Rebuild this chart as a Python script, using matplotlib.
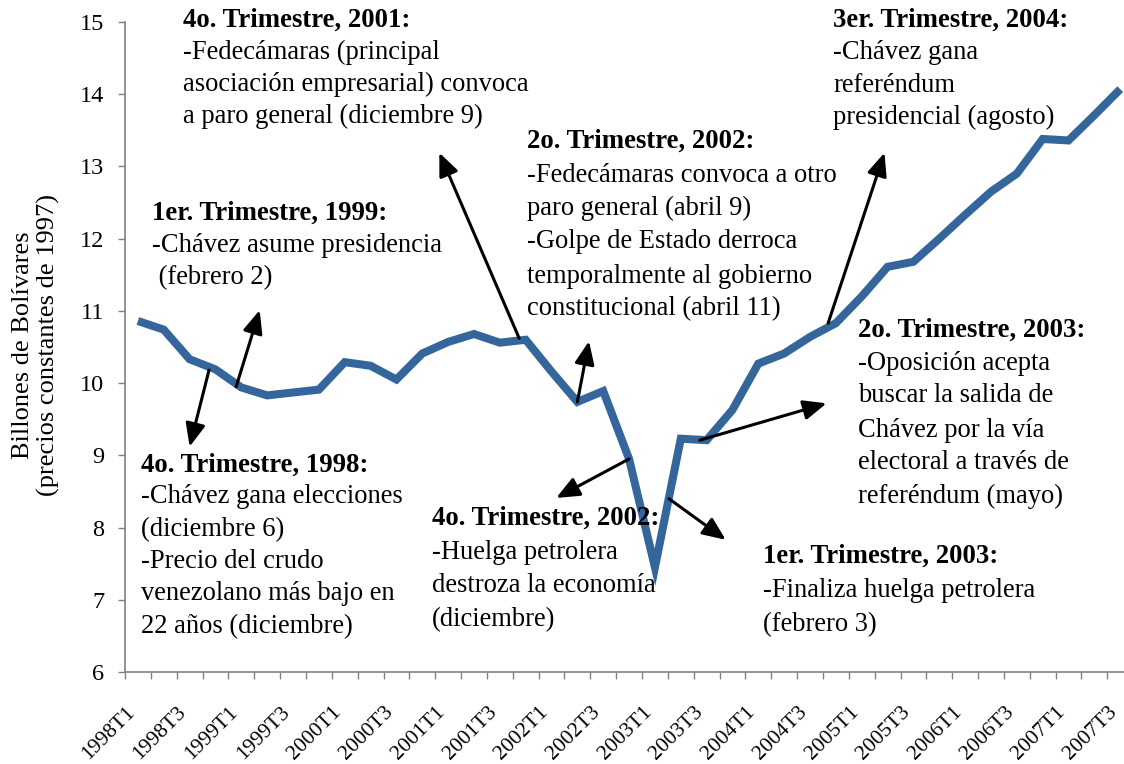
import matplotlib
matplotlib.use("Agg")
import matplotlib.pyplot as plt
from matplotlib.transforms import ScaledTranslation

plt.rcParams['font.family'] = ['Liberation Serif', 'DejaVu Serif']

quarters = [f"{y}T{q}" for y in range(1998, 2008) for q in range(1, 5)][:39]
values = [10.86, 10.74, 10.33, 10.19, 9.94, 9.83, 9.87, 9.91, 10.29, 10.24,
          10.05, 10.41, 10.57, 10.68, 10.56, 10.60, 10.16, 9.74, 9.89, 8.95,
          7.45, 9.23, 9.21, 9.63, 10.27, 10.41, 10.64, 10.83, 11.20, 11.61,
          11.68, 12.00, 12.33, 12.65, 12.90, 13.38, 13.36, 13.71, 14.07]
yticks = list(range(6, 16))

W, H = 1124, 764
fig = plt.figure(figsize=(W / 100, H / 100), dpi=100)
step = 25.85
ax = fig.add_axes([125 / W, (H - 672) / H, 39 * step / W, 650 / H])

x = list(range(len(values)))
ax.plot(x, values, color='#34659B', lw=5.8, solid_joinstyle='miter', solid_capstyle='butt')
ax.set_xlim(-0.5, 38.5)
ax.set_ylim(6, 15)
ax.set_yticks(yticks)
ax.set_yticklabels([str(v) for v in yticks], fontsize=17.5)
ax.tick_params(axis='y', direction='out', length=5, width=1, color='#808080', pad=10)
ax.set_xticks(x[::2])
ax.set_xticklabels(quarters[::2], rotation=45, ha='right', va='center',
                   rotation_mode='anchor', fontsize=15.5)
ax.tick_params(axis='x', which='major', length=0, pad=27)
shift = ScaledTranslation(-6 / 100, 0, fig.dpi_scale_trans)
for lab in ax.get_xticklabels():
    lab.set_transform(lab.get_transform() + shift)
ax.set_xticks([i - 0.5 for i in range(40)], minor=True)
ax.tick_params(axis='x', which='minor', direction='out', length=5, width=1, color='#808080')
for s in ['top', 'right']:
    ax.spines[s].set_visible(False)
for s in ['left', 'bottom']:
    ax.spines[s].set_color('#808080')
    ax.spines[s].set_linewidth(1.2)

fig.text(36 / W, 1 - 345 / H, "Billones de Bolívares\n(precios constantes de 1997)",
         rotation=90, ha='center', va='center', fontsize=19, linespacing=1.2)

FS = 19.1
FSB = 19.3

def block(px, baselines, header, lines):
    fig.text(px / W, 1 - baselines[0] / H, header, fontsize=FSB, fontweight='bold',
             ha='left', va='baseline')
    for b, t in zip(baselines[1:], lines):
        fig.text(px / W, 1 - b / H, t, fontsize=FS, ha='left', va='baseline')

block(183, [27, 59, 91, 123], "4o. Trimestre, 2001:",
      ["-Fedecámaras (principal", "asociación empresarial) convoca", "a paro general (diciembre 9)"])
block(833, [27, 59, 92, 124], "3er. Trimestre, 2004:",
      ["-Chávez gana", "referéndum", "presidencial (agosto)"])
block(527, [148, 182, 215, 248, 283, 315], "2o. Trimestre, 2002:",
      ["-Fedecámaras convoca a otro", "paro general (abril 9)", "-Golpe de Estado derroca",
       "temporalmente al gobierno", "constitucional (abril 11)"])
block(152, [220, 252, 284], "1er. Trimestre, 1999:",
      ["-Chávez asume presidencia", " (febrero 2)"])
block(858, [337, 370, 402, 437, 469, 503], "2o. Trimestre, 2003:",
      ["-Oposición acepta", "buscar la salida de", "Chávez por la vía",
       "electoral a través de", "referéndum (mayo)"])
block(141, [472, 503, 536, 568, 600, 633], "4o. Trimestre, 1998:",
      ["-Chávez gana elecciones", "(diciembre 6)", "-Precio del crudo",
       "venezolano más bajo en", "22 años (diciembre)"])
block(432, [525, 559, 592, 626], "4o. Trimestre, 2002:",
      ["-Huelga petrolera", "destroza la economía", "(diciembre)"])
block(763, [563, 597, 631], "1er. Trimestre, 2003:",
      ["-Finaliza huelga petrolera", "(febrero 3)"])

# arrows: (tail on the series, head)
arrows = [
    ((2.75, 10.18), (2.0, 9.12)),
    ((3.8, 9.95), (4.71, 11.01)),
    ((14.75, 10.62), (11.66, 13.19)),
    ((17.0, 9.74), (17.45, 10.58)),
    ((19.0, 8.95), (16.18, 8.41)),
    ((20.54, 8.40), (22.74, 7.83)),
    ((21.74, 9.21), (26.64, 9.72)),
    ((26.7, 10.83), (28.88, 13.19)),
]
for tail, head in arrows:
    ax.annotate("", xy=head, xytext=tail, xycoords='data', textcoords='data',
                arrowprops=dict(arrowstyle='-|>,head_length=0.7,head_width=0.3',
                                color='black', lw=2.2, shrinkA=0, shrinkB=0,
                                mutation_scale=20))

fig.savefig("out.png", dpi=100)
